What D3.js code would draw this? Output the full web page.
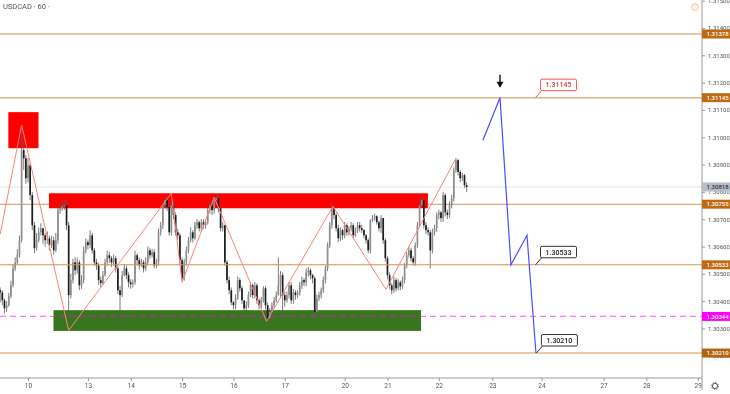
<!DOCTYPE html>
<html>
<head>
<meta charset="utf-8">
<script src="https://cdnjs.cloudflare.com/ajax/libs/d3/7.8.5/d3.min.js"></script>
<style>
  html, body { margin: 0; padding: 0; background: #fff; }
  svg { display: block; filter: blur(0.35px); }
  text { font-family: Roboto, sans-serif; }
</style>
</head>
<body>
<div id="chart"></div>
<script>
// prices are kept as points above 1.30000
var firstOpen = 440;
var closes = [432,403,374,385,418,458,520,542,568,623,
953,923,850,897,788,678,594,623,652,667,
641,623,630,605,623,586,623,733,740,747,
751,678,422,477,542,513,542,458,477,586,
616,605,641,586,542,531,477,466,495,542,
568,557,542,557,520,440,422,495,520,495,
469,462,469,568,550,531,542,520,542,586,
568,579,531,542,652,678,751,770,744,652,
751,715,652,641,550,484,542,586,623,652,
630,678,689,667,689,678,689,733,751,733,
770,777,740,667,678,542,477,440,396,385,
411,477,447,403,374,385,422,458,422,458,
403,385,403,447,385,337,360,385,403,422,
458,495,422,403,422,458,403,432,422,429,
458,477,469,505,513,495,484,360,411,422,
440,477,520,605,678,740,715,667,630,660,
641,678,652,667,678,641,660,678,667,660,
641,623,586,696,704,711,689,667,704,623,
557,495,458,440,477,447,469,454,477,531,
568,586,557,542,605,678,751,770,678,660,
652,586,652,667,715,725,704,788,725,715,
751,777,880,916,873,850,861,825,818];
var highs = [450,440,410,400,430,475,535,560,590,640,
1045,985,935,925,905,800,690,650,670,685,
665,650,655,640,640,635,650,745,760,770,
770,775,690,500,555,560,560,550,495,600,
630,625,660,650,595,555,540,490,510,555,
585,580,565,570,565,530,455,510,535,530,
505,480,480,585,575,560,555,550,560,600,
595,590,590,555,665,690,765,785,780,750,
765,765,725,665,650,560,555,600,635,670,
660,690,700,695,700,700,700,745,765,760,
785,790,785,745,690,680,550,490,450,400,
425,490,485,455,395,400,435,470,465,470,
465,410,415,455,455,395,375,395,415,435,
560,510,505,435,435,470,470,445,440,440,
470,490,485,520,525,520,500,490,425,435,
450,490,530,615,690,760,750,725,680,670,
665,690,685,675,690,685,670,690,690,680,
665,645,630,700,715,720,715,695,715,705,
630,565,505,465,490,485,480,475,490,540,
580,600,595,565,615,690,760,785,775,690,
670,660,665,680,725,735,730,800,795,735,
765,790,890,925,920,880,870,865,835];
var lows = [395,385,355,360,380,410,450,510,535,560,
615,880,830,835,770,660,575,585,615,640,
610,600,610,585,595,570,580,610,720,730,
735,660,340,410,465,495,500,440,445,465,
575,590,595,575,530,515,460,450,460,490,
530,540,525,530,505,425,315,415,490,480,
450,445,450,460,530,515,525,505,510,530,
555,560,520,520,530,640,665,740,730,640,
640,700,640,625,535,475,475,530,575,615,
615,625,665,655,655,665,665,680,720,715,
720,760,725,655,655,530,465,425,385,370,
370,405,435,390,360,360,375,415,410,410,
390,370,375,395,370,323,325,350,375,395,
420,410,355,380,395,410,390,390,405,410,
420,445,455,455,490,480,465,338,345,400,
410,430,465,510,595,665,700,655,615,620,
625,630,640,640,655,630,635,650,655,650,
630,610,575,575,690,695,680,655,650,610,
545,480,445,425,430,435,440,440,445,465,
520,560,545,530,530,595,670,745,665,645,
640,520,575,640,655,700,690,690,710,700,
705,740,765,870,860,835,840,815,800];

var dayBars = [13,41,61,85,109,133,161,181,205,230,253,282,302,326];
var dayLabels = ['10','13','14','15','16','17','20','21','22','23','24','27','28','29'];
var priceTicks = [1.302,1.303,1.304,1.305,1.306,1.307,1.308,1.309,1.310,1.311,1.312,1.313,1.314,1.315];

var zigBars = [0,10,32,80,85,100,124.5,155.5,180.3,212.5];
var zigPts = [645,1045,293,795,469,780,326,747,443,916];
var planBars = [225.6,233.6,238.7,246.2,250.4];
var planPts = [989,1145,533,641,210];

var levelsUnder = [755];
var levelsOver = [1378,1145,533,210];
var dashedLevel = 344;
var lastPrice = 818;

// bar from, bar to, top pts, bottom pts
var zones = [
  {from: 3.8, to: 17.9, top: 1092, bottom: 960, color: '#ff0000'},
  {from: 22.8, to: 199.9, top: 795, bottom: 740, color: '#ff0000'},
  {from: 24.9, to: 196.7, top: 367, bottom: 291, color: '#38761d'}
];
var tags = [
  {pts: 818, label: '1.30818', fill: '#b8bcc6', text: '#333'},
  {pts: 1378, label: '1.31378', fill: '#bf6a12', text: '#fff'},
  {pts: 1145, label: '1.31145', fill: '#bf6a12', text: '#fff'},
  {pts: 755, label: '1.30755', fill: '#bf6a12', text: '#fff'},
  {pts: 533, label: '1.30533', fill: '#bf6a12', text: '#fff'},
  {pts: 344, label: '1.30344', fill: '#ff00ff', text: '#fff'},
  {pts: 210, label: '1.30210', fill: '#b3630f', text: '#fff'}
];
var callouts = [
  {bar: 250.2, pts: 1145, label: '1.31145', color: '#ff5252', text: '#e53935'},
  {bar: 250.2, pts: 533, label: '1.30533', color: '#333', text: '#222'},
  {bar: 250.6, pts: 210, label: '1.30210', color: '#333', text: '#222'}
];

var width = 730, height = 394, plotW = 702, plotH = 378;

var x = d3.scaleLinear().domain([0, 328]).range([0.2, 702]);
var y = d3.scaleLinear().domain([1.30, 1.315]).range([410.4, 0.7]);
function py(p) { return y(1.3 + p / 100000); }

var svg = d3.select('#chart').append('svg')
    .attr('width', width)
    .attr('height', height);

svg.append('clipPath').attr('id', 'plot')
  .append('rect').attr('width', plotW).attr('height', plotH);

var plot = svg.append('g').attr('clip-path', 'url(#plot)');

function drawLevels(list) {
  plot.selectAll(null)
    .data(list)
    .enter().append('line')
      .attr('x1', 0).attr('x2', plotW)
      .attr('y1', py).attr('y2', py)
      .attr('stroke', function(d) { return d > 1000 ? '#e3b48a' : '#d98f4e'; })
      .attr('stroke-width', function(d) { return d > 1000 ? 1.5 : 1.1; });
}

plot.append('line')
  .attr('x1', 0).attr('x2', plotW)
  .attr('y1', py(lastPrice)).attr('y2', py(lastPrice))
  .attr('stroke', '#e4e4e4');

drawLevels(levelsUnder);

plot.selectAll('.zone')
  .data(zones)
  .enter().append('rect')
    .attr('class', 'zone')
    .attr('x', function(d) { return x(d.from); })
    .attr('width', function(d) { return x(d.to) - x(d.from); })
    .attr('y', function(d) { return py(d.top); })
    .attr('height', function(d) { return py(d.bottom) - py(d.top); })
    .attr('fill', function(d) { return d.color; });

// candles
var candles = closes.map(function(c, i) {
  return {i: i, open: i ? closes[i - 1] : firstOpen, close: c, high: highs[i], low: lows[i]};
});

plot.selectAll('.wick')
  .data(candles)
  .enter().append('line')
    .attr('class', 'wick')
    .attr('x1', function(d) { return x(d.i); })
    .attr('x2', function(d) { return x(d.i); })
    .attr('y1', function(d) { return py(d.high); })
    .attr('y2', function(d) { return py(d.low); })
    .attr('stroke', '#5a5a5a')
    .attr('stroke-width', 0.8);

plot.selectAll('.body')
  .data(candles)
  .enter().append('rect')
    .attr('class', 'body')
    .attr('x', function(d) { return x(d.i) - 0.85; })
    .attr('width', 1.7)
    .attr('y', function(d) { return py(Math.max(d.open, d.close)); })
    .attr('height', function(d) { return Math.max(0.6, Math.abs(py(d.open) - py(d.close))); })
    .attr('fill', function(d) { return d.close >= d.open ? '#8f8f8f' : '#1f1f1f'; });

drawLevels(levelsOver);

plot.append('line')
  .attr('x1', 0).attr('x2', plotW)
  .attr('y1', py(dashedLevel)).attr('y2', py(dashedLevel))
  .attr('stroke', '#ff00ff')
  .attr('stroke-opacity', 0.55)
  .attr('stroke-width', 1.3)
  .attr('stroke-dasharray', '6,4');

var line = d3.line()
  .x(function(d) { return x(d[0]); })
  .y(function(d) { return py(d[1]); });

plot.append('path')
  .attr('d', line(d3.zip(zigBars, zigPts)))
  .attr('fill', 'none')
  .attr('stroke', '#ff8080')
  .attr('stroke-width', 1);

plot.append('path')
  .attr('d', line(d3.zip(planBars, planPts)))
  .attr('fill', 'none')
  .attr('stroke', '#4a4dff')
  .attr('stroke-width', 1.2);

// down arrow above the plan top
var ax = x(planBars[1]), ay = py(planPts[1]);
plot.append('path')
  .attr('d', 'M' + (ax - 0.7) + ',' + (ay - 23) + 'h1.4v7h2.8l-3.5,6l-3.5,-6h2.8z')
  .attr('fill', '#111');

// axes
var xAxis = d3.axisBottom(x)
  .tickValues(dayBars)
  .tickFormat(function(d, i) { return dayLabels[i]; })
  .tickSize(3)
  .tickPadding(2);

var gx = svg.append('g')
  .attr('transform', 'translate(0,' + plotH + ')')
  .call(xAxis);
gx.select('.domain').attr('stroke', '#9a9a9a').attr('d', 'M0,0H' + plotW);
gx.selectAll('.tick line').attr('stroke', '#9a9a9a');
gx.selectAll('text').attr('fill', '#555').style('font-size', '6.5px');

var yAxis = d3.axisRight(y)
  .tickValues(priceTicks)
  .tickFormat(d3.format('.5f'))
  .tickSize(3)
  .tickPadding(3);

var gy = svg.append('g')
  .attr('transform', 'translate(' + plotW + ',0)')
  .call(yAxis);
gy.select('.domain').attr('stroke', '#9a9a9a').attr('d', 'M0,0V390');
gy.selectAll('.tick line').attr('stroke', '#9a9a9a');
gy.selectAll('text').attr('fill', '#555').style('font-size', '6px');

// price tags on the axis
var tag = svg.selectAll('.tag')
  .data(tags)
  .enter().append('g')
    .attr('class', 'tag')
    .attr('transform', function(d) { return 'translate(' + plotW + ',' + py(d.pts) + ')'; });
tag.append('rect')
  .attr('y', -4.5).attr('width', 28).attr('height', 9)
  .attr('fill', function(d) { return d.fill; });
tag.append('text')
  .attr('x', 4.5).attr('dy', '0.35em')
  .attr('fill', function(d) { return d.text; })
  .style('font-size', '6px')
  .style('font-weight', 500)
  .text(function(d) { return d.label; });

// callouts with a tail
var call = svg.selectAll('.callout')
  .data(callouts)
  .enter().append('g')
    .attr('class', 'callout')
    .attr('transform', function(d) { return 'translate(' + x(d.bar) + ',' + py(d.pts) + ')'; });
call.append('path')
  .attr('d', 'M0,0L6,-7')
  .attr('stroke', function(d) { return d.color; })
  .attr('fill', 'none');
call.append('rect')
  .attr('x', 5).attr('y', -18.5)
  .attr('width', 36).attr('height', 11.5)
  .attr('rx', 1.5)
  .attr('fill', '#fff')
  .attr('stroke', function(d) { return d.color; });
call.append('text')
  .attr('x', 23).attr('y', -12.7)
  .attr('dy', '0.35em')
  .attr('text-anchor', 'middle')
  .attr('fill', function(d) { return d.text; })
  .style('font-size', '7px')
  .style('font-weight', 500)
  .text(function(d) { return d.label; });

// header
svg.append('text')
  .attr('x', 3).attr('y', 9)
  .attr('fill', '#555')
  .style('font-size', '7.5px')
  .text('USDCAD \u00b7 60 \u00b7');

// alert icon, top right
svg.append('circle')
  .attr('cx', 695).attr('cy', 7).attr('r', 3.3)
  .attr('fill', 'none').attr('stroke', '#f9b98a');
svg.append('text')
  .attr('x', 695).attr('y', 9.2)
  .attr('text-anchor', 'middle')
  .attr('fill', '#f9b98a')
  .style('font-size', '6px')
  .text('!');

// settings gear
svg.append('circle')
  .attr('cx', 715).attr('cy', 386).attr('r', 2.6)
  .attr('fill', 'none').attr('stroke', '#555');
svg.append('circle')
  .attr('cx', 715).attr('cy', 386).attr('r', 3.6)
  .attr('fill', 'none').attr('stroke', '#555')
  .attr('stroke-dasharray', '1.2,1.6');
</script>
</body>
</html>
